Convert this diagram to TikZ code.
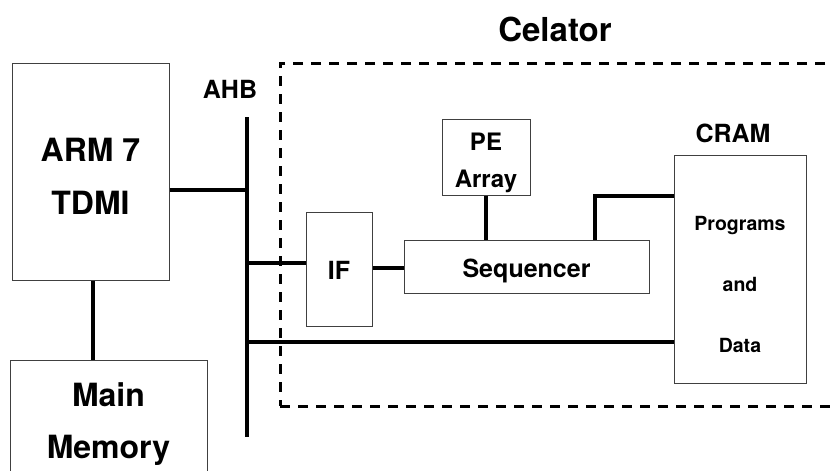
\documentclass[tikz,border=0pt]{standalone}
\usepackage{fontspec}
\setmainfont{TeX Gyre Heros}
\usetikzlibrary{positioning}
\tikzset{
    x=1pt, y=-1pt, % pixel-like units, y going down
    block/.style={draw=black!75, line width=1pt, fill=white, inner sep=0pt}, % the boxes
    txt/.style={inner sep=0pt, align=center, font=\bfseries}, % the words in and over them
    bus/.style={line width=3.5pt}, % the thick wires
    region/.style={draw, line width=3pt, dash pattern=on 10pt off 8pt, inner sep=0pt}
}
\begin{document}
\begin{tikzpicture}
    \useasboundingbox (0,0) rectangle (831,471);

    % celator region
    \node[region, minimum width=560, minimum height=343] (cel) at (560,234.5) {};
    \node[txt, font=\fontsize{33}{36}\selectfont\bfseries] (celtxt) at (555,29) {Celator};

    % blocks
    \node[block, minimum width=157, minimum height=217] (arm) at (90.5,171.5) {};
    \node[txt, font=\fontsize{32}{53}\selectfont\bfseries] (armtxt) at (90.5,176.5) {ARM 7\\TDMI};
    \node[block, minimum width=197, minimum height=122] (mem) at (108.5,421) {};
    \node[txt, font=\fontsize{32}{52}\selectfont\bfseries] (memtxt) at (108.5,424) {Main\\Memory};
    \node[block, minimum width=66, minimum height=114] (if) at (339,269) {};
    \node[txt, font=\fontsize{25}{30}\selectfont\bfseries] (iftxt) at (339,270) {IF};
    \node[block, minimum width=245, minimum height=53] (seq) at (526.5,266.5) {};
    \node[txt, font=\fontsize{25}{30}\selectfont\bfseries] (seqtxt) at (526.5,270.5) {Sequencer};
    \node[block, minimum width=88, minimum height=76] (pe) at (486,157) {};
    \node[txt, font=\fontsize{24}{37}\selectfont\bfseries] (petxt) at (486,163) {PE\\Array};
    \node[block, minimum width=132, minimum height=228] (cram) at (740,269) {};
    \node[txt, font=\fontsize{19.5}{61}\selectfont\bfseries] (cramtxt) at (740,284) {Programs\\and\\Data};
    \node[txt, font=\fontsize{25}{30}\selectfont\bfseries] (cramlbl) at (733,133) {CRAM};
    \node[txt, font=\fontsize{25}{30}\selectfont\bfseries] (ahb) at (230,89) {AHB};

    % bus taps
    \coordinate (ahbtop) at (247,117);
    \coordinate (ahbbot) at (247,437);
    \coordinate (b1) at (247,190);
    \coordinate (b2) at (247,263);
    \coordinate (b3) at (247,342);
    \coordinate (sq) at (595,196);

    \draw[bus] (ahbtop) -- (ahbbot);
    \draw[bus] (b1 -| arm.east) -- (b1);
    \draw[bus] (arm.south -| 93,0) -- (mem.north -| 93,0);
    \draw[bus] (b2) -- (b2 -| if.west);
    \draw[bus] (if.east |- 0,268) -- (seq.west |- 0,268);
    \draw[bus] (pe.south) -- (pe.south |- seq.north);
    \draw[bus] (seq.north -| sq) |- (cram.west |- sq);
    \draw[bus] (b3) -- (b3 -| cram.west);
\end{tikzpicture}
\end{document}
